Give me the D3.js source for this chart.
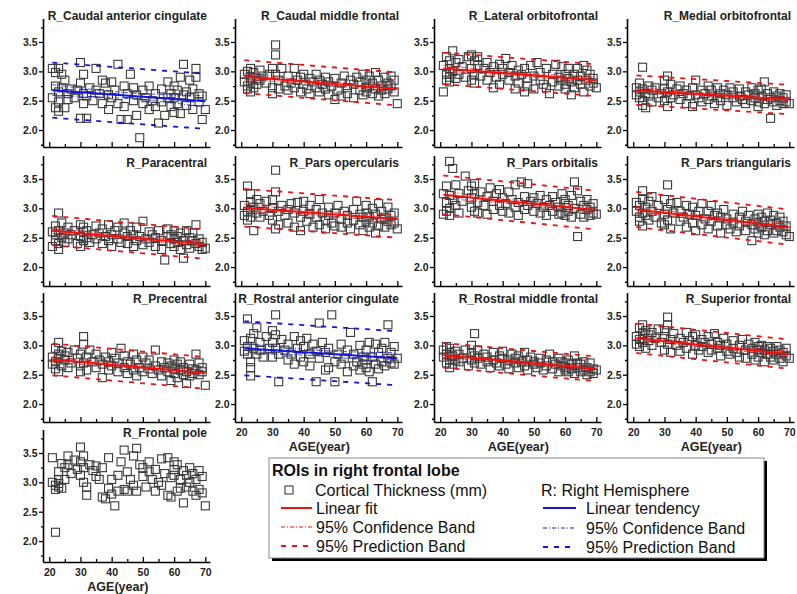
<!DOCTYPE html>
<html>
<head>
<meta charset="utf-8">
<script src="https://cdn.jsdelivr.net/npm/d3@7"></script>
<style>
  body { margin: 0; background: #fff; }
  svg { font-family: "Liberation Sans", Arial, sans-serif; }
</style>
</head>
<body>
<script>
// ages of the subjects (same cohort in every panel)
const ages = [21,21,22,22,22,23,23,23,23,24,24,25,25,26,26,27,28,29,30,30,30,31,31,31,32,32,33,34,35,35,36,37,37,38,39,39,40,40,41,42,42,43,44,44,45,45,46,47,47,48,48,49,50,50,51,52,52,53,54,54,55,56,56,57,58,58,59,59,60,60,60,61,61,62,62,63,63,64,64,65,65,66,66,67,67,68,68,69,69,70];

// cortical thickness (mm), one value per subject, in the order of ages
const caudalAnteriorCingulate = [2.55,3.05, 2.75,2.98,2.38, 2.65,3.05,2.32,2.48, 2.95,2.72, 2.38,2.85, 2.62,2.52, 2.70, 2.55, 2.68, 3.15,2.80,2.20, 2.45,2.95,2.62, 2.20,2.58, 2.72, 2.50, 3.05,2.68, 2.62, 2.85,2.45, 2.80, 2.35,2.60, 2.82,2.55, 2.68, 3.12,2.45, 2.18, 2.75,2.40, 2.18,2.62, 2.95, 2.72,2.50, 2.25,2.60, 1.87, 2.68,2.45, 2.55, 2.35,2.75, 2.50, 2.62,2.40, 2.12, 2.70,2.48, 2.25, 2.82,2.55, 2.40,2.62, 2.75,2.30,2.55, 2.68,2.45, 2.90,2.28, 3.12,2.60, 2.42,2.65, 2.55,2.85, 2.35,2.70, 3.05,2.90, 2.48,2.62, 2.18,2.58, 2.35];
const caudalMiddleFrontal = [2.95,2.82, 2.75,3.00,2.70, 3.05,2.80,2.90,2.65, 2.72,2.98, 2.88,2.78, 3.02,2.85, 2.92, 2.80, 2.95, 2.72,2.62,3.05, 3.45,3.28,2.95, 2.70,2.85, 3.05, 2.75, 2.92,2.68, 2.80, 3.05,2.72, 2.85, 2.65,2.90, 2.78,2.95, 2.70, 2.88,2.62, 2.82, 2.72,2.95, 2.65,2.85, 2.78, 2.90,2.70, 2.60,2.82, 2.75, 2.52,2.88, 2.68, 2.80,2.58, 2.92, 2.72,2.62, 2.85, 2.55,2.78, 2.90, 2.68,2.82, 2.60,2.95, 2.72,2.85,2.65, 2.92,2.75, 2.62,2.80, 2.98,2.70, 2.85,2.58, 2.75,2.68, 2.90,2.62, 2.80,2.70, 2.92,2.75, 2.65,2.85, 2.45];
const lateralOrbitofrontal = [2.65,3.10, 2.85,3.25,2.95, 3.05,2.82,3.18,2.90, 3.35,3.00, 3.15,2.88, 2.95,3.20, 3.08, 2.90, 3.25, 3.28,2.85,3.05, 2.95,3.18,2.80, 3.10,3.25, 2.92, 3.05, 2.85,3.15, 2.98, 2.72,3.08, 2.90, 3.12,2.78, 2.95,3.05, 3.22, 2.85,2.98, 3.10, 2.70,2.92, 3.02,2.80, 2.95, 2.65,3.05, 2.88,2.75, 3.10, 2.92,2.70, 3.15, 2.85,2.98, 2.78, 3.05,2.72, 2.62, 2.95,2.82, 3.12, 2.75,2.90, 3.08,2.85, 2.70,2.95,2.78, 2.88,3.05, 2.60,2.82, 2.95,2.72, 3.05,2.85, 2.78,2.92, 3.10,2.65, 2.85,3.02, 2.75,2.95, 2.88,2.80, 2.72];
const medialOrbitofrontal = [2.72,2.60, 2.55,2.80,2.65, 3.07,2.42,2.70,2.50, 2.62,2.38, 2.75,2.58, 2.68,2.48, 2.72, 2.55, 2.62, 2.85,2.50,2.70, 2.92,2.40,2.65, 2.78,2.55, 2.60, 2.70, 2.52,2.75, 2.62, 2.45,2.68, 2.58, 2.72,2.40, 2.85,2.60, 2.55, 2.68,2.48, 2.62, 2.75,2.52, 2.58,2.68, 2.45, 2.72,2.55, 2.62,2.50, 2.68, 2.42,2.60, 2.72, 2.55,2.65, 2.48, 2.70,2.58, 2.52, 2.65,2.45, 2.60, 2.72,2.50, 2.55,2.62, 2.48,2.68,2.40, 2.58,2.70, 2.82,2.45, 2.52,2.62, 2.20,2.55, 2.65,2.48, 2.58,2.42, 2.50,2.62, 2.55,2.45, 2.60,2.48, 2.45];
const paracentral = [2.60,2.35, 2.45,2.70,2.55, 2.92,2.40,2.62,2.30, 2.75,2.50, 2.58,2.42, 2.68,2.48, 2.55, 2.62, 2.40, 2.72,2.52,2.35, 2.60,2.45,2.68, 2.50,2.62, 2.42, 2.55, 2.70,2.48, 2.58, 2.40,2.65, 2.52, 2.72,2.45, 2.55,2.35, 2.62, 2.48,2.68, 2.42, 2.58,2.75, 2.40,2.52, 2.62, 2.35,2.55, 2.68,2.45, 2.52, 2.78,2.38, 2.48, 2.60,2.42, 2.55, 2.35,2.50, 2.62, 2.45,2.30, 2.12, 2.52,2.65, 2.40,2.55, 2.48,2.35,2.62, 2.42,2.52, 2.30,2.58, 2.15,2.45, 2.62,2.38, 2.50,2.32, 2.45,2.58, 2.72,2.40, 2.35,2.48, 2.42,2.30, 2.32];
const parsOpercularis = [2.88,3.05, 3.38,2.95,2.80, 3.25,3.10,2.85,2.98, 2.62,3.02, 3.15,2.92, 2.85,3.08, 2.95, 3.12, 2.88, 3.15,2.80,3.00, 3.65,3.28,2.65, 2.95,2.72, 3.05, 2.88, 2.98,2.75, 3.08, 2.68,2.92, 3.10, 2.85,2.62, 3.12,2.95, 2.78, 2.90,3.05, 2.68, 2.85,2.98, 2.72,3.15, 2.92, 2.80,2.65, 3.02,2.88, 2.75, 2.92,2.70, 3.05, 2.82,2.68, 2.95, 2.75,2.88, 2.65, 2.98,2.80, 3.12, 2.72,2.90, 2.85,2.62, 3.05,2.78,2.92, 2.68,2.85, 3.00,2.75, 2.58,2.90, 3.08,2.70, 2.82,2.95, 2.68,2.85, 3.02,2.78, 2.72,2.88, 2.92,2.75, 2.65];
const parsOrbitalis = [3.25,2.90, 3.10,3.38,2.95, 3.80,3.00,3.22,2.88, 3.68,3.15, 3.40,3.05, 3.25,2.92, 3.12, 3.55, 3.30, 3.38,3.02,3.18, 2.95,3.25,3.42, 3.10,2.92, 3.28, 3.05, 3.20,2.90, 3.35, 3.12,2.98, 3.25, 3.05,3.32, 2.95,3.18, 3.08, 3.28,2.92, 3.15, 3.02,3.40, 3.10,2.88, 3.45, 3.20,2.98, 3.05,3.42, 3.12, 2.95,3.18, 3.08, 3.22,2.92, 3.02, 3.15,2.88, 3.05, 2.95,3.20, 3.10, 2.90,3.02, 3.25,2.92, 3.08,2.88,3.15, 2.95,3.05, 3.22,2.85, 3.45,3.00, 2.52,3.30, 2.90,3.12, 3.05,2.85, 2.98,3.15, 2.88,3.02, 3.08,2.92, 2.90];
const parsTriangularis = [2.95,3.10, 2.85,3.05,2.78, 3.30,2.92,3.15,2.70, 3.02,2.88, 3.12,2.80, 2.95,3.20, 2.85, 3.05, 2.75, 3.15,2.90,2.72, 3.40,2.98,2.80, 3.08,2.65, 2.92, 3.10, 2.78,2.95, 2.85, 3.05,2.68, 2.90, 2.75,3.02, 2.88,2.62, 2.95, 2.72,3.08, 2.82, 2.95,2.65, 2.78,3.05, 2.88, 2.70,2.92, 2.58,2.85, 2.98, 2.72,2.82, 2.65, 2.90,2.75, 2.60, 2.85,2.70, 2.95, 2.62,2.78, 2.88, 2.45,2.72, 2.82,2.65, 2.90,2.58,2.75, 2.68,2.85, 2.55,2.78, 2.92,2.62, 2.72,2.80, 2.58,2.88, 2.75,2.62, 2.85,2.68, 2.60,2.78, 2.70,2.55, 2.52];
const precentral = [2.80,2.68, 2.95,2.72,2.60, 3.05,2.85,2.55,2.78, 2.65,2.90, 2.75,2.82, 2.62,2.88, 2.70, 2.92, 2.78, 2.65,2.85,2.55, 3.15,3.02,2.70, 2.58,2.80, 2.92, 2.72, 2.62,2.85, 2.75, 2.45,2.68, 2.80, 2.58,2.72, 2.88,2.65, 2.78, 2.55,2.70, 2.95, 2.62,2.82, 2.72,2.52, 2.68, 2.85,2.58, 2.75,2.48, 2.62, 2.80,2.55, 2.70, 2.60,2.75, 2.52, 2.92,2.65, 2.58, 2.72,2.48, 2.62, 2.55,2.70, 2.40,2.65, 2.75,2.52,2.60, 2.68,2.45, 2.58,2.72, 2.50,2.62, 2.35,2.55, 2.68,2.48, 2.60,2.52, 2.85,2.58, 2.70,2.50, 2.55,2.62, 2.32];
const rostralAnteriorCingulate = [3.08,2.90, 2.85,3.45,2.98, 2.48,3.12,2.72,2.62, 3.20,2.95, 3.30,2.85, 2.92,3.05, 2.80, 3.15, 2.95, 3.25,2.80,3.05, 3.52,2.95,3.18, 2.38,2.85, 3.10, 2.92, 2.75,3.02, 2.85, 3.15,2.68, 2.95, 2.80,3.08, 2.72,2.98, 3.12, 2.85,2.65, 3.02, 2.38,2.90, 3.38,2.78, 3.05, 2.58,2.88, 2.95,2.62, 3.52, 2.72,2.38, 2.85, 3.02,2.68, 2.78, 2.92,2.55, 3.22, 2.65,2.85, 2.72, 3.00,2.58, 2.80,2.68, 2.92,2.62,2.75, 3.05,2.55, 2.38,2.80, 2.68,3.02, 2.88,2.60, 2.72,2.95, 3.05,2.65, 3.35,2.78, 2.70,2.88, 2.98,2.68, 2.78];
const rostralMiddleFrontal = [2.80,2.92, 2.70,2.85,2.98, 2.75,2.88,2.62,2.95, 2.82,2.68, 2.90,2.75, 2.72,2.85, 2.78, 2.92, 2.65, 2.88,2.75,3.00, 3.20,2.82,2.70, 2.78,2.92, 2.68, 2.85, 2.72,2.80, 2.62, 2.88,2.75, 2.70, 2.82,2.65, 2.78,2.90, 2.68, 2.75,2.60, 2.85, 2.70,2.78, 2.62,2.82, 2.72, 2.88,2.65, 2.75,2.58, 2.80, 2.68,2.72, 2.62, 2.78,2.70, 2.58, 2.75,2.65, 2.85, 2.60,2.72, 2.68, 2.55,2.78, 2.65,2.72, 2.58,2.70,2.62, 2.75,2.55, 2.68,2.60, 2.82,2.52, 2.62,2.70, 2.55,2.68, 2.72,2.58, 2.62,2.50, 2.70,2.55, 2.60,2.52, 2.58];
const superiorFrontal = [3.15,3.02, 3.30,3.10,2.98, 3.35,3.20,3.05,3.12, 3.25,2.95, 3.18,3.08, 3.00,3.22, 3.12, 3.28, 3.05, 3.15,2.92,3.25, 3.48,3.35,3.02, 2.88,3.10, 3.20, 3.00, 3.12,2.90, 3.05, 3.22,2.95, 3.08, 2.85,3.15, 3.00,3.18, 2.92, 3.10,2.98, 3.05, 2.88,3.15, 3.02,2.92, 3.20, 2.95,3.05, 2.82,3.00, 3.12, 2.90,3.02, 2.85, 3.08,2.95, 2.88, 3.00,2.80, 3.10, 2.92,2.78, 3.02, 2.85,2.95, 2.75,3.05, 2.92,2.80,2.98, 2.88,3.00, 2.72,2.92, 2.98,2.85, 2.80,2.95, 2.90,2.75, 2.85,2.98, 2.78,2.92, 2.88,2.72, 2.95,2.82, 2.78];
const frontalPole = [3.42,3.00, 2.15,2.95,2.88, 3.18,2.92,3.05,2.98, 3.32,2.90, 3.05,3.25, 3.45,3.30, 3.15, 3.38, 3.22, 3.60,3.35,3.12, 3.45,3.00,3.25, 2.78,2.92, 3.30, 3.20, 3.10,3.28, 3.05, 2.75,3.25, 2.72, 3.42,2.90, 2.80,3.05, 2.60, 3.12,2.85, 3.35, 3.55,2.88, 3.18,2.85, 3.05, 3.45,2.95, 3.58,2.85, 3.30, 3.10,3.25, 2.92, 3.35,3.18, 3.05, 2.85,3.22, 3.00, 3.40,2.95, 3.15, 2.78,3.42, 3.08,2.75, 3.35,3.12,3.22, 2.85,3.30, 3.05,2.90, 2.65,3.20, 3.12,2.92, 3.25,3.00, 2.85,3.15, 3.05,2.78, 3.20,2.88, 2.82,3.10, 2.60];

const regionNames = ["R_Caudal anterior cingulate", "R_Caudal middle frontal", "R_Lateral orbitofrontal", "R_Medial orbitofrontal",
  "R_Paracentral", "R_Pars opercularis", "R_Pars orbitalis", "R_Pars triangularis",
  "R_Precentral", "R_Rostral anterior cingulate", "R_Rostral middle frontal", "R_Superior frontal",
  "R_Frontal pole"];
const regionValues = [caudalAnteriorCingulate, caudalMiddleFrontal, lateralOrbitofrontal, medialOrbitofrontal,
  paracentral, parsOpercularis, parsOrbitalis, parsTriangularis,
  precentral, rostralAnteriorCingulate, rostralMiddleFrontal, superiorFrontal,
  frontalPole];

// fitted line read at age 21 and 70, and half width of the 95% prediction band
const fitKind = ["tendency","fit","fit","fit", "fit","fit","fit","fit", "fit","tendency","fit","fit", "none"];
const fitAt21 = [2.68, 2.91, 3.05, 2.68, 2.62, 3.01, 3.23, 2.98, 2.76, 2.95, 2.83, 3.12, null];
const fitAt70 = [2.49, 2.70, 2.85, 2.52, 2.39, 2.82, 2.97, 2.68, 2.53, 2.78, 2.60, 2.85, null];
const predHalf = [0.47, 0.28, 0.27, 0.25, 0.25, 0.32, 0.33, 0.30, 0.27, 0.46, 0.21, 0.25, null];

const ageTicks = [20, 30, 40, 50, 60, 70];
const ageMinor = [25, 35, 45, 55, 65];
const thickTicks = [2.0, 2.5, 3.0, 3.5];
const thickMinor = [1.75, 2.25, 2.75, 3.25, 3.75];

// grid layout: y pixel of the 3.5 tick and of the age axis, per row
const colLeft = [43, 235, 434, 627];
const rowAt35 = [42, 179, 316, 453];
const rowBottom = [147, 286, 422, 562];
const titleBase = [20, 167, 303, 437];
const panelW = 167, pxPerMm = 58.7;
const RED = "#f21010", BLUE = "#1414e0";

const svg = d3.select("body").append("svg")
  .attr("width", 797)
  .attr("height", 594);

// shape of the confidence band, from the spread of the ages
const nSub = ages.length;
const meanAge = d3.mean(ages);
const sxx = d3.sum(ages, a => (a - meanAge) * (a - meanAge));

regionNames.forEach(function(name, i) {
  const row = Math.floor(i / 4), col = i % 4;
  const x = d3.scaleLinear().domain([18, 71.5]).range([colLeft[col], colLeft[col] + panelW]);
  // anchor 3.5 on its row, then stretch the domain down to the axis line
  const yMin = 3.5 - (rowBottom[row] - rowAt35[row]) / pxPerMm;
  const y = d3.scaleLinear().domain([yMin, 3.9])
    .range([rowBottom[row], rowAt35[row] - 0.4 * pxPerMm]);
  const g = svg.append("g");
  const bottomPanel = i + 4 >= regionNames.length;

  // y axis
  g.append("g")
    .attr("transform", "translate(" + colLeft[col] + ",0)")
    .call(d3.axisLeft(y).tickValues(thickTicks).tickFormat(d3.format(".1f"))
      .tickSize(4).tickSizeOuter(0).tickPadding(1.5));
  g.append("g")
    .attr("transform", "translate(" + colLeft[col] + ",0)")
    .call(d3.axisLeft(y).tickValues(thickMinor).tickFormat("").tickSize(2))
    .select(".domain").remove();

  // x axis (ticks point inwards)
  g.append("g")
    .attr("transform", "translate(0," + rowBottom[row] + ")")
    .call(d3.axisBottom(x).tickValues(ageTicks).tickSize(-5).tickSizeOuter(0).tickPadding(6.5)
      .tickFormat(bottomPanel ? d3.format("d") : ""));
  g.append("g")
    .attr("transform", "translate(0," + rowBottom[row] + ")")
    .call(d3.axisBottom(x).tickValues(ageMinor).tickFormat("").tickSize(-3))
    .select(".domain").remove();

  g.selectAll(".domain").attr("stroke", "#000").attr("stroke-width", 1.6);
  g.selectAll(".tick line").attr("stroke", "#000").attr("stroke-width", 1.3);
  g.selectAll(".tick text")
    .attr("font-family", "Liberation Sans, Arial, sans-serif")
    .attr("font-size", 10.5).attr("font-weight", "bold").attr("fill", "#222");

  if (bottomPanel) {
    g.append("text")
      .attr("x", x(col === 0 ? 42 : 45)).attr("y", rowBottom[row] + 29)
      .attr("text-anchor", "middle")
      .attr("font-size", 12.5).attr("font-weight", "bold").attr("fill", "#222")
      .text("AGE(year)");
  }

  // title
  g.append("text")
    .attr("x", colLeft[col] + panelW - 3).attr("y", titleBase[row])
    .attr("text-anchor", "end")
    .attr("font-size", 12).attr("font-weight", "bold").attr("fill", "#222")
    .text(name);

  // cortical thickness points
  const pts = regionValues[i].map((v, k) => [ages[k], v]);
  g.selectAll("rect.pt").data(pts).join("rect")
    .attr("class", "pt")
    .attr("x", d => x(d[0]) - 4)
    .attr("y", d => y(d[1]) - 4)
    .attr("width", 8).attr("height", 8)
    .attr("fill", "none")
    .attr("stroke", "#3a3a3a")
    .attr("stroke-width", 1.1);

  if (fitKind[i] === "none") return;
  const colour = fitKind[i] === "tendency" ? BLUE : RED;
  const fit = a => fitAt21[i] + (fitAt70[i] - fitAt21[i]) * (a - 21) / 49;
  const s = predHalf[i] / 1.99;
  const conf = a => 1.99 * s * Math.sqrt(1 / nSub + (a - meanAge) * (a - meanAge) / sxx);
  const span = d3.range(21, 70.01, 1);
  const line = d3.line().x(d => x(d[0])).y(d => y(d[1]));

  // 95% prediction band
  [1, -1].forEach(function(sign) {
    g.append("path")
      .datum(span.map(a => [a, fit(a) + sign * predHalf[i]]))
      .attr("d", line)
      .attr("fill", "none").attr("stroke", colour)
      .attr("stroke-width", 1.8).attr("stroke-dasharray", "5,6");
  });
  // 95% confidence band
  [1, -1].forEach(function(sign) {
    g.append("path")
      .datum(span.map(a => [a, fit(a) + sign * conf(a)]))
      .attr("d", line)
      .attr("fill", "none").attr("stroke", colour).attr("stroke-opacity", 0.8)
      .attr("stroke-width", 1).attr("stroke-dasharray", "4,2,1,2");
  });
  // fitted line
  g.append("path")
    .datum([[21, fit(21)], [70, fit(70)]])
    .attr("d", line)
    .attr("fill", "none").attr("stroke", colour).attr("stroke-width", 2);
});

// legend box with its shadow
const legend = svg.append("g");
legend.append("rect")
  .attr("x", 272).attr("y", 461).attr("width", 495).attr("height", 100)
  .attr("fill", "#000");
legend.append("rect")
  .attr("x", 269).attr("y", 458).attr("width", 495).attr("height", 100)
  .attr("fill", "#fff").attr("stroke", "#888").attr("stroke-width", 1);

legend.append("text")
  .attr("x", 272).attr("y", 476)
  .attr("font-size", 16).attr("font-weight", "bold").attr("fill", "#111")
  .text("ROIs in right frontal lobe");

const legendRows = [
  { label: "Cortical Thickness (mm)", y: 490, x: 315, kind: "square" },
  { label: "Linear fit", y: 508, x: 316, kind: "solid", colour: RED },
  { label: "95% Confidence Band", y: 527, x: 316, kind: "dashdot", colour: RED },
  { label: "95% Prediction Band", y: 546, x: 316, kind: "dash", colour: RED },
  { label: "R: Right Hemisphere", y: 490, x: 541, kind: "none" },
  { label: "Linear tendency", y: 508, x: 586, kind: "solid", colour: BLUE },
  { label: "95% Confidence Band", y: 528, x: 586, kind: "dashdot", colour: BLUE },
  { label: "95% Prediction Band", y: 547, x: 586, kind: "dash", colour: BLUE }
];

legendRows.forEach(function(r) {
  const x0 = r.x < 400 ? 281 : 543;
  const x1 = r.x < 400 ? 312 : 576;
  if (r.kind === "square") {
    legend.append("rect")
      .attr("x", 285).attr("y", r.y - 4).attr("width", 8).attr("height", 8)
      .attr("fill", "none").attr("stroke", "#3a3a3a").attr("stroke-width", 1.1);
  } else if (r.kind !== "none") {
    legend.append("line")
      .attr("x1", x0).attr("x2", x1).attr("y1", r.y).attr("y2", r.y)
      .attr("stroke", r.colour)
      .attr("stroke-width", r.kind === "dashdot" ? 1 : 2)
      .attr("stroke-dasharray", r.kind === "dash" ? "5,6" : r.kind === "dashdot" ? "4,2,1,2" : null);
  }
  legend.append("text")
    .attr("x", r.x).attr("y", r.y + 6)
    .attr("font-size", 16).attr("fill", "#111")
    .text(r.label);
});
</script>
</body>
</html>
